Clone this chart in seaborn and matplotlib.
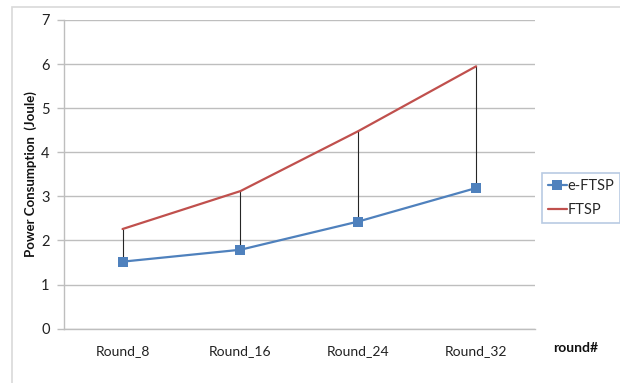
import matplotlib
matplotlib.use("Agg")
import matplotlib.pyplot as plt
import seaborn as sns
import pandas as pd
from matplotlib.patches import Rectangle
from matplotlib.lines import Line2D

rounds = ["Round_8", "Round_16", "Round_24", "Round_32"]
e_ftsp = [1.52, 1.79, 2.43, 3.19]
ftsp = [2.26, 3.12, 4.48, 5.95]
y_ticks = [0, 1, 2, 3, 4, 5, 6, 7]

sns.set_theme(style="white")
plt.rcParams["font.family"] = ["Lato", "DejaVu Sans"]

blue = "#4F81BD"
red = "#C0504D"

df = pd.DataFrame({"round": rounds * 2,
                   "power": e_ftsp + ftsp,
                   "series": ["e-FTSP"] * 4 + ["FTSP"] * 4})

fig = plt.figure(figsize=(6.2, 3.83), dpi=100)
ax = fig.add_axes([0.1026, 0.1418, 0.7604, 0.806])

# high-low lines between the two series
ax.vlines(rounds, e_ftsp, ftsp, color="#262626", lw=0.8, zorder=2)

sns.lineplot(data=df[df.series == "FTSP"], x="round", y="power", color=red,
             lw=1.6, ax=ax, legend=False, zorder=3)
sns.lineplot(data=df[df.series == "e-FTSP"], x="round", y="power", color=blue,
             lw=1.6, marker="s", markersize=7, markeredgewidth=0, ax=ax,
             legend=False, zorder=4)

ax.set_xlim(-0.5, 3.5)
ax.set_ylim(0, 7)
ax.set_yticks(y_ticks)
ax.grid(axis="y", color="#BEBEBE", lw=1)
ax.grid(axis="x", visible=False)
for s in ["top", "right"]:
    ax.spines[s].set_visible(False)
for s in ["left", "bottom"]:
    ax.spines[s].set_color("#BEBEBE")
    ax.spines[s].set_linewidth(1)
ax.tick_params(axis="y", which="major", left=True, length=5, width=1,
               color="#BEBEBE", labelsize=10.5, pad=5, labelcolor="#222222")
ax.tick_params(axis="x", bottom=False, labelsize=10, pad=6, labelcolor="#222222")

ax.set_xlabel("")
ax.set_ylabel("Power Consumption  (Joule)", fontsize=9.5, fontweight="bold",
              labelpad=3, color="#111111")

fig.text(576 / 620, 1 - 348 / 383, "round#", fontsize=10, fontweight="bold",
         ha="center", va="center", color="#111111")

handles = [Line2D([], [], color=blue, lw=1.6, marker="s", markersize=7,
                  markeredgewidth=0),
           Line2D([], [], color=red, lw=1.6)]
leg = fig.legend(handles, ["e-FTSP", "FTSP"], loc="upper left",
                 bbox_to_anchor=(542 / 620, 1 - 173 / 383), frameon=True,
                 fancybox=False, fontsize=10.5, handlelength=1.3,
                 handletextpad=0.05, borderpad=0.4, labelspacing=0.7,
                 borderaxespad=0)
leg.get_frame().set_edgecolor("#A7BEDC")
leg.get_frame().set_linewidth(1.2)

# chart border
fig.patches.append(Rectangle((12 / 620, -0.05), 1.5, 1 - 7 / 383 + 0.05,
                             transform=fig.transFigure, fill=False,
                             edgecolor="#D9D9D9", lw=1.2))

fig.savefig("out.png", dpi=100)
